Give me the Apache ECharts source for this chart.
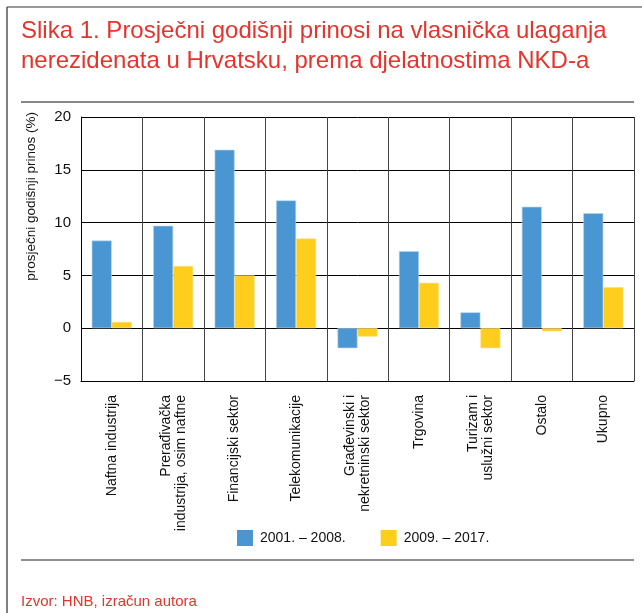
<!DOCTYPE html>
<html>
<head>
<meta charset="utf-8">
<script src="https://cdn.jsdelivr.net/npm/echarts@6/dist/echarts.min.js"></script>
<style>
  html, body { margin: 0; padding: 0; background: #fff; }
  #chart { width: 642px; height: 613px; }
</style>
</head>
<body>
<div id="chart"></div>
<script>
// kategorije i vrijednosti (%)
const categories = [
  'Naftna industrija',
  'Prerađivačka\nindustrija, osim naftne',
  'Financijski sektor',
  'Telekomunikacije',
  'Građevinski i\nnekretninski sektor',
  'Trgovina',
  'Turizam i\nuslužni sektor',
  'Ostalo',
  'Ukupno'
]
const seriesNames = ['2001. – 2008.', '2009. – 2017.']
const period1 = [8.3, 9.7, 16.9, 12.1, -1.9, 7.3, 1.5, 11.5, 10.9]
const period2 = [0.6, 5.9, 5.0, 8.5, -0.8, 4.3, -1.9, -0.3, 3.9]
const yTicks = { min: -5, max: 20, interval: 5 }

const red = '#e5342c'
const narrow = '"Liberation Sans Narrow", "Arial Narrow", "Liberation Sans", sans-serif'
const sans = '"Liberation Sans", Arial, sans-serif'

const chart = echarts.init(document.getElementById('chart'))

chart.setOption({
  animation: false,
  title: {
    text: 'Slika 1. Prosječni godišnji prinosi na vlasnička ulaganja\nnerezidenata u Hrvatsku, prema djelatnostima NKD-a',
    left: 21,
    top: 16,
    padding: 0,
    textStyle: {
      color: red,
      fontFamily: sans,
      fontWeight: 'normal',
      fontSize: 24,
      lineHeight: 30
    }
  },
  legend: {
    data: seriesNames,
    left: 237,
    top: 530,
    padding: 0,
    itemWidth: 16,
    itemHeight: 16,
    itemGap: 35,
    icon: 'rect',
    itemStyle: { borderWidth: 0 },
    textStyle: { fontFamily: narrow, fontSize: 14, color: '#111', padding: [2, 0, 0, 2] }
  },
  grid: {
    left: 81,
    right: 8,
    top: 117,
    bottom: 232
  },
  xAxis: {
    type: 'category',
    data: categories,
    axisTick: { show: false },
    axisLine: { onZero: false, lineStyle: { color: '#000', width: 1 } },
    splitLine: { show: true, lineStyle: { color: '#444', width: 1 } },
    axisLabel: {
      rotate: 90,
      interval: 0,
      margin: 14,
      fontFamily: narrow,
      fontSize: 14,
      lineHeight: 15,
      color: '#111'
    }
  },
  yAxis: {
    type: 'value',
    min: yTicks.min,
    max: yTicks.max,
    interval: yTicks.interval,
    axisTick: { show: false },
    axisLine: { show: true, lineStyle: { color: '#000', width: 1 } },
    splitLine: { show: true, lineStyle: { color: '#000', width: 1 } },
    axisLabel: {
      margin: 10,
      fontFamily: narrow,
      fontSize: 15,
      color: '#111',
      formatter: v => (v < 0 ? '\u2212' + Math.abs(v) : String(v))
    }
  },
  series: [
    {
      name: seriesNames[0],
      type: 'bar',
      data: period1,
      barWidth: 20,
      barGap: '0%',
      itemStyle: { color: '#4a96d2', borderColor: '#b9d6ee', borderWidth: 0.6 }
    },
    {
      name: seriesNames[1],
      type: 'bar',
      data: period2,
      barWidth: 20,
      barGap: '0%',
      itemStyle: { color: '#ffcd1c', borderColor: '#ffe38a', borderWidth: 0.6 }
    }
  ],
  graphic: [
    // okvir slike
    { type: 'line', shape: { x1: 7, y1: 7, x2: 642, y2: 7 }, style: { stroke: '#777', lineWidth: 1.5 } },
    { type: 'line', shape: { x1: 7, y1: 7, x2: 7, y2: 613 }, style: { stroke: '#555', lineWidth: 1.5 } },
    { type: 'line', shape: { x1: 21, y1: 102, x2: 634, y2: 102 }, style: { stroke: '#888', lineWidth: 2 } },
    { type: 'line', shape: { x1: 21, y1: 560, x2: 634, y2: 560 }, style: { stroke: '#222', lineWidth: 1.2 } },
    {
      type: 'text',
      x: 31,
      y: 112,
      rotation: Math.PI / 2,
      style: {
        text: 'prosječni godišnji prinos (%)',
        fontFamily: narrow,
        fontSize: 13.5,
        fill: '#111',
        textAlign: 'right',
        textVerticalAlign: 'middle'
      }
    },
    {
      type: 'text',
      x: 21,
      y: 602,
      style: {
        text: 'Izvor: HNB, izračun autora',
        fontFamily: sans,
        fontSize: 15,
        fill: red,
        textVerticalAlign: 'middle'
      }
    }
  ]
})
</script>
</body>
</html>
